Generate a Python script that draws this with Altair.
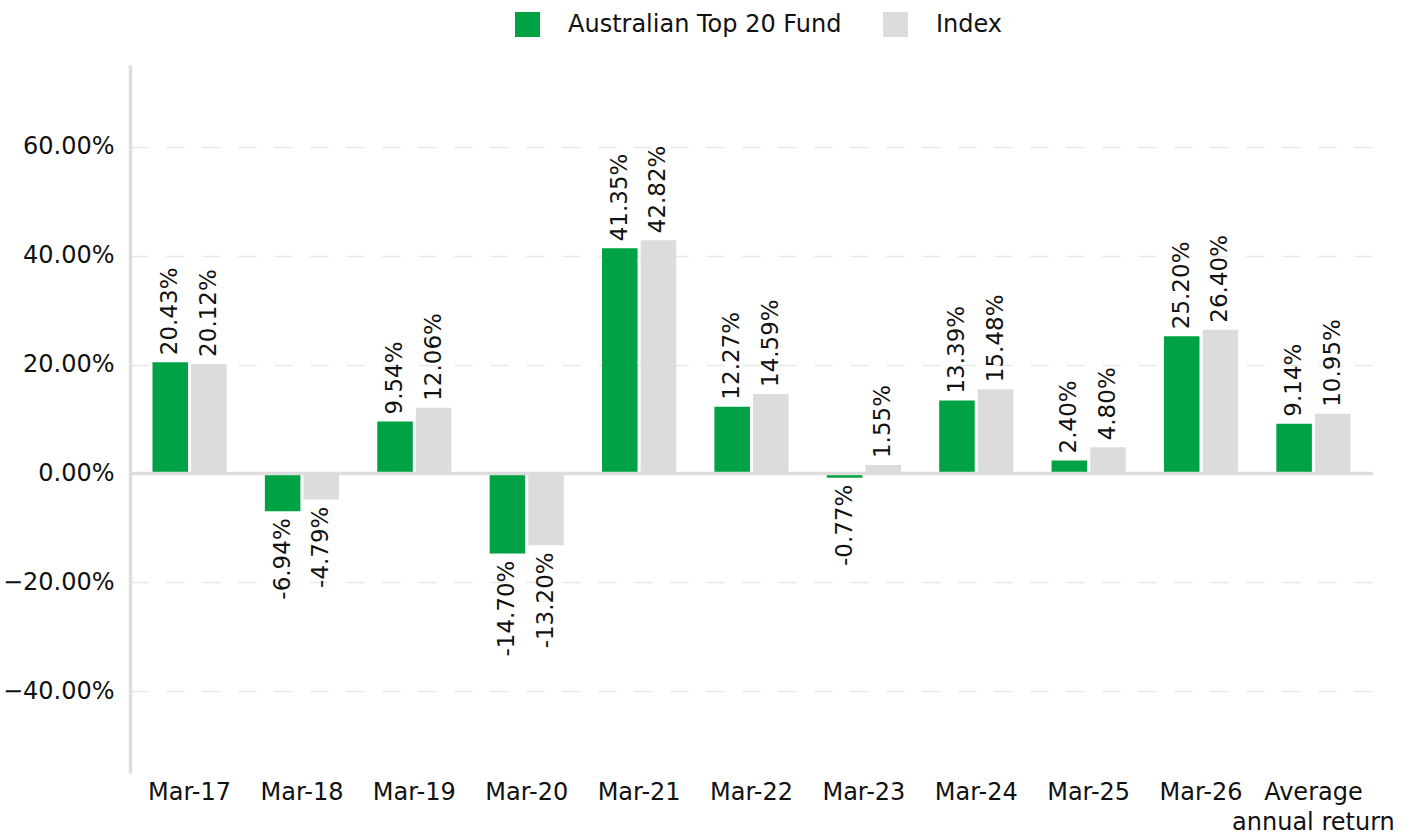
import altair as alt
import pandas as pd

categories = ["Mar-17", "Mar-18", "Mar-19", "Mar-20", "Mar-21", "Mar-22",
              "Mar-23", "Mar-24", "Mar-25", "Mar-26", "Average annual return"]
fund = [20.43, -6.94, 9.54, -14.70, 41.35, 12.27, -0.77, 13.39, 2.40, 25.20, 9.14]
index = [20.12, -4.79, 12.06, -13.20, 42.82, 14.59, 1.55, 15.48, 4.80, 26.40, 10.95]
series = ["Australian Top 20 Fund", "Index"]
colors = ["#00A244", "#DCDCDC"]
y_ticks = [-40, -20, 0, 20, 40, 60]

rows = []
for c, f, i in zip(categories, fund, index):
    rows.append({"cat": c, "series": series[0], "value": f})
    rows.append({"cat": c, "series": series[1], "value": i})
df = pd.DataFrame(rows)
df["label"] = df["value"].map(lambda v: f"{v:.2f}%")

FONT = "DejaVu Sans"

x_enc = alt.X("cat:N", sort=categories, title=None,
              scale=alt.Scale(paddingInner=0.34, paddingOuter=0.2),
              axis=alt.Axis(labelAngle=0, domain=False, ticks=False, labelPadding=7,
                            labelFontSize=24, labelColor="#111", labelFont=FONT,
                            labelLineHeight=30, labelLimit=0, labelOverlap=False,
                            labelExpr="datum.value == 'Average annual return' ? ['Average', 'annual return'] : datum.label"))
xo_enc = alt.XOffset("series:N", sort=series, scale=alt.Scale(paddingInner=0.08))
y_enc = alt.Y("value:Q", title=None,
              scale=alt.Scale(domain=[-55, 75], nice=False, zero=False),
              axis=alt.Axis(values=y_ticks, ticks=False, labelPadding=16,
                            labelFontSize=24, labelColor="#111", labelFont=FONT,
                            domainColor="#DDDDDD", domainWidth=3.5,
                            grid=True, gridColor="#E8E8E8", gridWidth=1.5,
                            gridDash=[18, 18],
                            labelExpr="format(datum.value, '.2f') + '%'"))

base = alt.Chart(df)

bars = base.mark_bar().encode(
    x=x_enc, xOffset=xo_enc, y=y_enc,
    color=alt.Color("series:N", sort=series,
                    scale=alt.Scale(domain=series, range=colors),
                    legend=alt.Legend(title=None, orient="none", direction="horizontal",
                                      legendX=385, legendY=-53,
                                      symbolType="square", symbolSize=625,
                                      symbolStrokeWidth=0, labelFontSize=24,
                                      labelFont=FONT, labelColor="#111", labelLimit=0,
                                      labelOffset=28, columnPadding=41)),
)

zero = alt.Chart(pd.DataFrame({"z": [0]})).mark_rule(color="#DDDDDD", strokeWidth=3.5).encode(
    y=alt.Y("z:Q")
)

pos = base.transform_filter("datum.value >= 0").mark_text(
    angle=270, align="left", baseline="middle", dx=7, fontSize=23, font=FONT, color="#111"
).encode(x=x_enc, xOffset=xo_enc, y=y_enc, text="label:N")

neg = base.transform_filter("datum.value < 0").mark_text(
    angle=270, align="right", baseline="middle", dx=-7, fontSize=23, font=FONT, color="#111"
).encode(x=x_enc, xOffset=xo_enc, y=y_enc, text="label:N")

chart = alt.layer(bars, zero, pos, neg).properties(
    width=1243, height=708,
    background="white",
    autosize=alt.AutoSizeParams(type="none"),
    padding={"left": 130, "top": 65, "right": 40, "bottom": 60},
).configure_view(stroke=None)

chart.save("out.html", embed_options={"renderer": "svg", "actions": False})
